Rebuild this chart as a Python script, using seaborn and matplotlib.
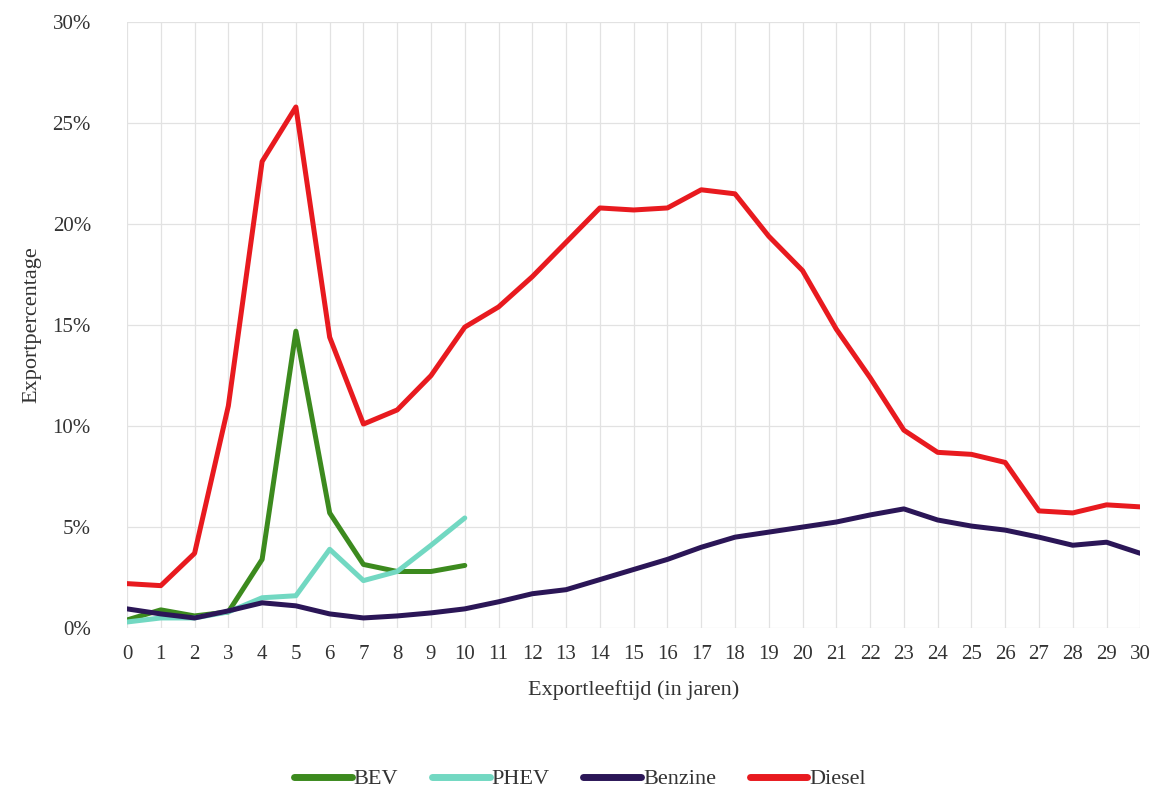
import numpy as np
import pandas as pd
import matplotlib
matplotlib.use("Agg")
import matplotlib.pyplot as plt
import seaborn as sns
from matplotlib.ticker import FuncFormatter, MultipleLocator
from matplotlib.lines import Line2D

ages = list(range(31))
ages_ev = list(range(11))

bev = [0.4, 0.9, 0.6, 0.8, 3.4, 14.7, 5.7, 3.15, 2.8, 2.8, 3.1]
phev = [0.3, 0.5, 0.5, 0.8, 1.5, 1.6, 3.9, 2.35, 2.8, 4.1, 5.45]
benzine = [0.95, 0.7, 0.5, 0.85, 1.25, 1.1, 0.7, 0.5, 0.6, 0.75, 0.95,
           1.3, 1.7, 1.9, 2.4, 2.9, 3.4, 4.0, 4.5, 4.75, 5.0,
           5.25, 5.6, 5.9, 5.35, 5.05, 4.85, 4.5, 4.1, 4.25, 3.7]
diesel = [2.2, 2.1, 3.7, 11.0, 23.1, 25.8, 14.4, 10.1, 10.8, 12.5, 14.9,
          15.9, 17.4, 19.1, 20.8, 20.7, 20.8, 21.7, 21.5, 19.4, 17.7,
          14.8, 12.4, 9.8, 8.7, 8.6, 8.2, 5.8, 5.7, 6.1, 6.0]

series = ["BEV", "PHEV", "Benzine", "Diesel"]
colors = ["#3c8a1e", "#72d8c2", "#2b1657", "#e81a1f"]

frames = [
    pd.DataFrame({"age": ages_ev, "pct": bev, "type": "BEV"}),
    pd.DataFrame({"age": ages_ev, "pct": phev, "type": "PHEV"}),
    pd.DataFrame({"age": ages, "pct": benzine, "type": "Benzine"}),
    pd.DataFrame({"age": ages, "pct": diesel, "type": "Diesel"}),
]
df = pd.concat(frames, ignore_index=True)

sns.set_theme(style="white")
plt.rcParams["font.family"] = ["Liberation Serif", "DejaVu Serif"]

fig = plt.figure(figsize=(11.6, 7.91), dpi=100)
ax = fig.add_axes([0.1095, 0.206, 0.8735, 0.766])

sns.lineplot(data=df, x="age", y="pct", hue="type", hue_order=series,
             palette=colors, linewidth=3.6, ax=ax, legend=False,
             estimator=None, sort=True)

ax.set_xlim(0, 30)
ax.set_ylim(0, 30)
ax.xaxis.set_major_locator(MultipleLocator(1))
ax.yaxis.set_major_locator(MultipleLocator(5))
ax.yaxis.set_major_formatter(FuncFormatter(lambda v, p: f"{int(v)}%"))
ax.grid(True, color="#e2e2e2", linewidth=0.9)
ax.set_axisbelow(True)
for s in ax.spines.values():
    s.set_visible(False)
ax.tick_params(axis="both", length=0, labelsize=15, colors="#333333")
ax.tick_params(axis="x", pad=12)
ax.tick_params(axis="y", pad=26)
ax.set_xlabel("Exportleeftijd (in jaren)", fontsize=16, color="#333333", labelpad=12)
ax.set_ylabel("Exportpercentage", fontsize=16, color="#333333", labelpad=8)

handles = [Line2D([0], [0], color=c, linewidth=5) for c in colors]
fig.legend(handles, series, loc="center", bbox_to_anchor=(0.5, 0.015),
           ncol=4, frameon=False, fontsize=16, handlelength=2.6,
           handletextpad=0.1, columnspacing=1.5, labelcolor="#333333")

fig.savefig("out.png", dpi=100)
